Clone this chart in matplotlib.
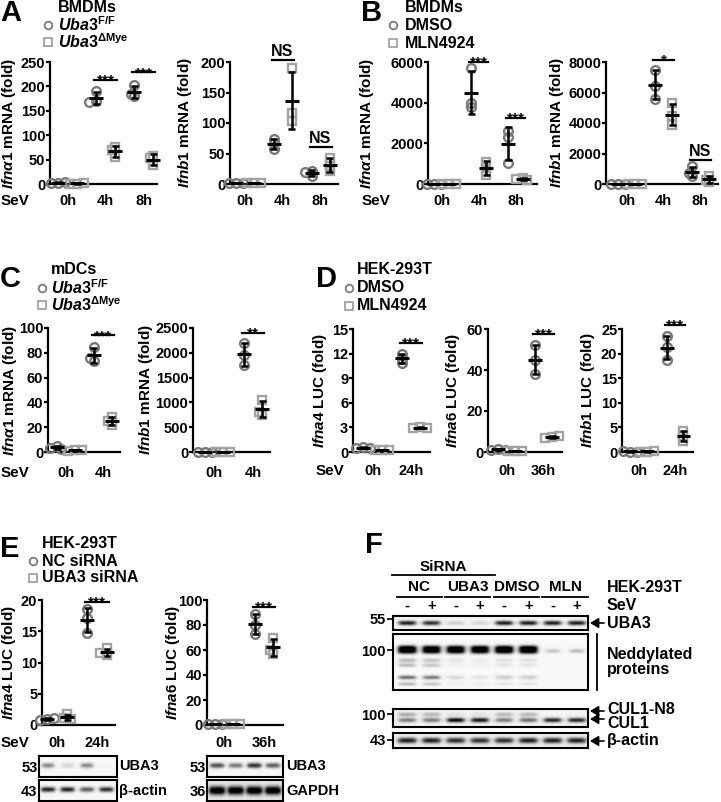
import numpy as np
import matplotlib
matplotlib.use("Agg")
import matplotlib.pyplot as plt
import matplotlib.patches
from matplotlib.transforms import Affine2D, blended_transform_factory
from matplotlib.lines import Line2D

W, H, DPI = 721, 802, 100
plt.rcParams.update({
    'font.family': ['Liberation Sans', 'DejaVu Sans'],
    'font.weight': 'bold',
    'mathtext.fontset': 'custom',
    'mathtext.rm': 'Liberation Sans:bold',
    'mathtext.bf': 'Liberation Sans:bold',
    'mathtext.it': 'Liberation Sans:bold:italic',
    'mathtext.sf': 'Liberation Sans:bold',
})

# ---------------- data ----------------
A_groups = ['0h', '4h', '8h']
a1_ff = [[3, 2, 4], [190, 170, 168], [203, 180, 185]]
a1_dm = [[1, 1, 2], [75, 55, 70], [58, 38, 54]]
a1_sig = [None, '***', '***']
a1_sig_y = [None, 213, 229]
a2_ff = [[1, 1, 1.5], [74, 57, 67], [22, 13, 20]]
a2_dm = [[1, 1, 1.5], [190, 117, 103], [43, 21, 29]]
a2_sig = [None, 'NS', 'NS']
a2_sig_y = [None, 203, 61]

B_groups = ['0h', '4h', '8h']
b1_dmso = [[15, 10, 12], [5700, 4000, 3800], [2600, 2300, 1050]]
b1_mln = [[10, 8, 12], [1100, 450, 800], [300, 250, 200]]
b1_sig = [None, '***', '***']
b1_sig_y = [None, 6000, 3250]
b2_dmso = [[10, 12, 8], [7500, 5600, 6400], [1150, 500, 750]]
b2_mln = [[10, 8, 9], [5300, 3900, 4450], [550, 100, 250]]
b2_sig = [None, '*', 'NS']
b2_sig_y = [None, 8130, 1570]

C_groups = ['0h', '4h']
c1_ff = [[5, 3.5, 2.5], [85, 73, 76]]
c1_dm = [[2, 1, 1.5], [28, 22, 25]]
c1_sig = [None, '***']
c1_sig_y = [None, 94]
c2_ff = [[8, 6, 10], [2200, 1950, 1750]]
c2_dm = [[5, 6, 4], [1050, 750, 800]]
c2_sig = [None, '**']
c2_sig_y = [None, 2400]

D1_groups = ['0h', '24h']
D2_groups = ['0h', '36h']
d1_dmso = [[0.55, 0.5, 0.45], [12.0, 11.4, 10.9]]
d1_mln = [[0.25, 0.2, 0.2], [3.05, 2.95, 2.9]]
d1_sig = [None, '***']
d1_sig_y = [None, 13.3]
d2_dmso = [[1.5, 1.0, 1.2], [52, 45, 38]]
d2_mln = [[0.3, 0.3, 0.35], [7.5, 7.0, 7.8]]
d2_sig = [None, '***']
d2_sig_y = [None, 57.6]
d3_dmso = [[0.1, 0.12, 0.1], [23.5, 21.3, 18.8]]
d3_mln = [[0.1, 0.1, 0.12], [4.3, 3.2, 2.3]]
d3_sig = [None, '***']
d3_sig_y = [None, 25.8]

E1_groups = ['0h', '24h']
E2_groups = ['0h', '36h']
e1_nc = [[1.0, 0.8, 1.2], [18.5, 17.2, 14.7]]
e1_si = [[1.7, 1.1, 0.9], [12.3, 11.2, 11.5]]
e1_sig = [None, '***']
e1_sig_y = [None, 19.7]
e2_nc = [[1.0, 1.2, 0.9], [89, 80, 73]]
e2_si = [[1.0, 0.9, 1.1], [70, 57, 60]]
e2_sig = [None, '***']
e2_sig_y = [None, 94.4]

# blot band intensities (per lane)
f_lanes_sev = ['-', '+', '-', '+', '-', '+', '-', '+']
f_groups = ['NC', 'UBA3', 'DMSO', 'MLN']
f_uba3 = [0.85, 0.8, 0.22, 0.18, 0.85, 0.85, 0.85, 0.85]
f_nedd_main = [0.95, 0.9, 0.9, 0.9, 0.95, 0.95, 0.0, 0.0]
f_nedd_faint = [0.0, 0.0, 0.0, 0.0, 0.0, 0.0, 0.3, 0.35]
f_nedd_mid = [0.35, 0.3, 0.15, 0.12, 0.18, 0.18, 0.0, 0.0]
f_nedd_low1 = [0.6, 0.55, 0.2, 0.15, 0.25, 0.25, 0.0, 0.0]
f_nedd_low2 = [0.35, 0.3, 0.1, 0.1, 0.15, 0.15, 0.0, 0.0]
f_cul1n8 = [0.35, 0.3, 0.1, 0.1, 0.3, 0.3, 0.0, 0.0]
f_cul1 = [0.5, 0.5, 0.9, 0.85, 0.5, 0.55, 0.8, 0.8]
f_actin = [0.8, 0.8, 0.75, 0.75, 0.75, 0.8, 0.8, 0.8]
e1_uba3 = [0.5, 0.2, 0.5, 0.05]
e1_actin = [0.85, 0.85, 0.65, 0.8]
e2_uba3 = [0.7, 0.55, 0.8, 0.65]
e2_gapdh = [1.0, 1.0, 1.0, 1.0]

# ---------------- labels ----------------
lab_a1 = r'$\mathit{Ifn\alpha 1}$ mRNA (fold)'
lab_b1 = r'$\mathit{Ifnb1}$ mRNA (fold)'
lab_a4 = r'$\mathit{Ifna4}$ LUC (fold)'
lab_a6 = r'$\mathit{Ifna6}$ LUC (fold)'
lab_b1l = r'$\mathit{Ifnb1}$ LUC (fold)'
uba3_ff = r'$\mathit{Uba3}^{\mathrm{F/F}}$'
uba3_dm = r'$\mathit{Uba3}^{\mathrm{\Delta Mye}}$'

fig = plt.figure(figsize=(W / DPI, H / DPI), dpi=DPI)
PX = Affine2D().scale(1.0 / W, -1.0 / H).translate(0, 1) + fig.transFigure

C1COL = '#7a7a7a'
C2COL = '#a3a3a3'
TICKFS = 10.5
LABFS = 11


def swarm(ypx, dmin=4.0, step=3.5):
    placed = []
    offs = []
    for y in ypx:
        cands = [0]
        for j in range(1, 6):
            cands += [-j * step, j * step]
        for c in cands:
            if all(np.hypot(c - ox, y - oy) >= dmin for ox, oy in placed):
                break
        placed.append((c, y))
        offs.append(c)
    return np.array(offs)


def chart(groups, s1, s2, ymax, ystep, ylabel, sig, sig_y, box, c1, gs, dodge,
          labx, xlab_y, sev_x=None):
    x0, y0, x1, y1 = box
    ax = fig.add_axes([x0 / W, 1 - y1 / H, (x1 - x0) / W, (y1 - y0) / H])
    ax.set_xlim((x0 - c1) / gs, (x1 - c1) / gs)
    ax.set_ylim(0, ymax)
    ypp = (y1 - y0) / ymax
    d = dodge / gs
    for g in range(len(groups)):
        for si, (ser, mk, col) in enumerate([(s1, 'o', C1COL), (s2, 's', C2COL)]):
            vals = np.array(ser[g], float)
            xc = g + (d if si else -d)
            offs = swarm(vals * ypp)
            ax.plot(xc + offs / gs, vals, ls='none', marker=mk, ms=6.3,
                    mfc='none', mec=col, mew=1.7, clip_on=False, zorder=3)
            m = vals.mean()
            sd = vals.std(ddof=1)
            kw = dict(color='k', lw=1.8, clip_on=False, zorder=4)
            ax.plot([xc, xc], [m - sd, m + sd], solid_capstyle='butt', **kw)
            for yy in (m - sd, m + sd):
                ax.plot([xc - 3.5 / gs, xc + 3.5 / gs], [yy, yy], solid_capstyle='butt', **kw)
            ax.plot([xc - 7 / gs, xc + 7 / gs], [m, m], solid_capstyle='butt',
                    color='k', lw=2.1, clip_on=False, zorder=4)
        if sig[g]:
            ax.plot([g - d - 2 / gs, g + d + 2 / gs], [sig_y[g], sig_y[g]], color='k',
                    lw=1.6, clip_on=False)
            star = '*' in sig[g]
            off = -3.5 if star else 3.0
            ax.annotate(sig[g], (g, sig_y[g]), xytext=(0, off), textcoords='offset points',
                        ha='center', va='baseline', fontsize=11 if star else 11.5,
                        fontweight='bold', annotation_clip=False)
    for sp in ('top', 'right'):
        ax.spines[sp].set_visible(False)
    for sp in ('left', 'bottom'):
        ax.spines[sp].set_linewidth(1.6)
    ax.set_yticks(np.arange(0, ymax + ystep / 2, ystep))
    ax.tick_params(axis='y', length=3.0, width=1.6, pad=0.4, labelsize=TICKFS)
    for t in ax.get_yticklabels():
        t.set_fontweight('bold')
    ax.set_xticks([])
    ax.set_ylabel(ylabel, fontsize=LABFS, fontweight='bold')
    ax.yaxis.set_label_coords((labx - x0) / (x1 - x0), 0.5)
    tr = blended_transform_factory(ax.transData, PX)
    for g, lab in enumerate(groups):
        ax.text(g, xlab_y, lab, transform=tr, ha='center', va='center', fontsize=TICKFS,
                fontweight='bold')
    if sev_x is not None:
        fig.text(sev_x, xlab_y, 'SeV', transform=PX, ha='left', va='center',
                 fontsize=TICKFS + 0.5, fontweight='bold')
    return ax


def header(letter, lx, ly, title, tx, ty, l1, l2, mx, my1, my2):
    fig.text(lx, ly, letter, transform=PX, fontsize=21, ha='left', va='center')
    fig.text(tx, ty, title, transform=PX, fontsize=11.5, ha='left', va='center')
    fig.text(tx, my1, l1, transform=PX, fontsize=11.5, ha='left', va='center')
    fig.text(tx, my2, l2, transform=PX, fontsize=11.5, ha='left', va='center')
    fig.add_artist(Line2D([mx], [my1], transform=PX, marker='o', ms=5.5, mfc='none',
                          mec=C1COL, mew=1.3))
    fig.add_artist(Line2D([mx], [my2], transform=PX, marker='s', ms=5.5, mfc='none',
                          mec=C2COL, mew=1.3))


# ---------------- A ----------------
header('A', 0, 13, 'BMDMs', 58, 8, uba3_ff, uba3_dm, 48, 25, 42)
chart(A_groups, a1_ff, a1_dm, 250, 50, lab_a1, a1_sig, a1_sig_y, (50, 62, 157, 184), 67.5, 38, 9.5, 18.5, 201, sev_x=1)
chart(A_groups, a2_ff, a2_dm, 200, 50, lab_b1, a2_sig, a2_sig_y, (230, 62, 338, 184), 244.5, 38, 9, 194, 201)
# ---------------- B ----------------
header('B', 361, 13, 'BMDMs', 405, 8, 'DMSO', 'MLN4924', 393, 25, 43)
chart(B_groups, b1_dmso, b1_mln, 6000, 2000, lab_a1, b1_sig, b1_sig_y, (428, 62, 537, 184), 442, 37, 7.5, 376, 201, sev_x=362)
chart(B_groups, b2_dmso, b2_mln, 8000, 2000, lab_b1, b2_sig, b2_sig_y, (606, 62, 718, 184), 626.5, 37, 8.5, 566, 201)
# ---------------- C ----------------
header('C', 0, 279, 'mDCs', 51, 269, uba3_ff, uba3_dm, 42, 288, 305)
chart(C_groups, c1_ff, c1_dm, 100, 20, lab_a1, c1_sig, c1_sig_y, (48, 328, 120, 452), 66, 37, 9, 18.5, 473, sev_x=1)
chart(C_groups, c2_ff, c2_dm, 2500, 500, lab_b1, c2_sig, c2_sig_y, (193, 328, 270, 452), 213.5, 39.5, 9, 155, 473)
# ---------------- D ----------------
header('D', 316, 279, 'HEK-293T', 357, 269, 'DMSO', 'MLN4924', 349, 288, 306)
chart(D1_groups, d1_dmso, d1_mln, 15, 3, lab_a4, d1_sig, d1_sig_y, (353, 329, 430, 452), 372.5, 38.5, 9.5, 329, 471, sev_x=316)
chart(D2_groups, d2_dmso, d2_mln, 60, 20, lab_a6, d2_sig, d2_sig_y, (488, 329, 562, 452), 506.5, 37, 8.5, 462, 471)
chart(D1_groups, d3_dmso, d3_mln, 25, 5, lab_b1l, d3_sig, d3_sig_y, (622, 329, 693, 452), 638.5, 36.5, 8.5, 597, 471)
# ---------------- E ----------------
header('E', 0, 549, 'HEK-293T', 42, 543, 'NC siRNA', 'UBA3 siRNA', 33, 561, 578)
chart(E1_groups, e1_nc, e1_si, 20, 5, lab_a4, e1_sig, e1_sig_y, (42, 600, 115, 725), 57, 40, 10, 18.5, 743, sev_x=1)
chart(E2_groups, e2_nc, e2_si, 100, 20, lab_a6, e2_sig, e2_sig_y, (207, 600, 283, 725), 224, 40, 9, 182, 743)


# ---------------- blots ----------------
def blot(box, first, sp, bands, bg=0.1, marker=None, mark_len=4, lw=1.5):
    x0, y0, x1, y1 = box
    ax = fig.add_axes([x0 / W, 1 - y1 / H, (x1 - x0) / W, (y1 - y0) / H])
    xl = ((x0 - first) / sp, (x1 - first) / sp)
    nx, ny = 300, 60
    xs = np.linspace(xl[0], xl[1], nx)
    ys = np.linspace(0, 1, ny)
    X, Y = np.meshgrid(xs, ys)
    img = np.full_like(X, bg)
    for (yc, sig, hw, ints) in bands:
        for i, v in enumerate(ints):
            hprof = 1.0 / (1.0 + np.exp((np.abs(X - i) - hw) / 0.06))
            vprof = np.exp(-0.5 * ((Y - yc) / sig) ** 2)
            img += v * hprof * vprof
    img = np.clip(img, 0, 1)
    ax.imshow(img, cmap='Greys', vmin=0, vmax=1, extent=(xl[0], xl[1], 1, 0),
              aspect='auto', interpolation='bilinear')
    ax.set_xlim(*xl)
    ax.set_ylim(1, 0)
    for s in ax.spines.values():
        s.set_linewidth(lw)
    ax.set_xticks([])
    if marker:
        ax.set_yticks([marker[1]])
        ax.set_yticklabels([marker[0]], fontweight='bold')
        ax.tick_params(axis='y', length=mark_len, width=1.2, pad=1, labelsize=10.5)
    else:
        ax.set_yticks([])
    return ax


# F
f_first, f_sp = 407, 24.3
fb1 = blot((393, 616, 588, 630), f_first, f_sp, [(0.5, 0.13, 0.36, f_uba3)], bg=0.08,
           marker=('55', 0.2))
fb2 = blot((393, 634, 588, 690), f_first, f_sp,
           [(0.24, 0.035, 0.38, f_nedd_main), (0.31, 0.035, 0.38, f_nedd_main),
            (0.30, 0.03, 0.3, f_nedd_faint), (0.47, 0.03, 0.36, f_nedd_mid),
            (0.56, 0.025, 0.36, f_nedd_low2), (0.78, 0.03, 0.36, f_nedd_low1),
            (0.9, 0.025, 0.36, f_nedd_low2)], bg=0.05, marker=('100', 0.29))
fb3 = blot((393, 709, 588, 727), f_first, f_sp,
           [(0.3, 0.09, 0.36, f_cul1n8), (0.62, 0.1, 0.36, f_cul1)], bg=0.1,
           marker=('100', 0.3))
fb4 = blot((393, 733, 588, 748), f_first, f_sp, [(0.5, 0.15, 0.38, f_actin)], bg=0.12,
           marker=('43', 0.45))

trF = blended_transform_factory(fb1.transData, PX)
fig.text(365, 545, 'F', transform=PX, fontsize=21, ha='left', va='center')
fb1.text(1.5, 567, 'SiRNA', transform=trF, ha='center', va='center', fontsize=11)
fb1.plot([0 - 0.62, 3 + 0.62], [575, 575], transform=trF, color='k', lw=1.3, clip_on=False)
for i, g in enumerate(f_groups):
    c = 2 * i + 0.5
    fb1.text(c, 587, g, transform=trF, ha='center', va='center', fontsize=11)
    fb1.plot([c - 0.93, c + 0.93], [597, 597], transform=trF, color='k', lw=1.3, clip_on=False)
for i, s in enumerate(f_lanes_sev):
    fb1.text(i, 606, s, transform=trF, ha='center', va='center', fontsize=10.5)
fig.text(607, 587, 'HEK-293T', transform=PX, ha='left', va='center', fontsize=11.5)
fig.text(607, 606, 'SeV', transform=PX, ha='left', va='center', fontsize=11.5)


def arrow(y, xt=604, xh=590):
    fig.add_artist(matplotlib.patches.FancyArrowPatch((xt, y), (xh, y), transform=PX,
                   arrowstyle='-|>,head_length=5,head_width=3', color='k', lw=1.2,
                   shrinkA=0, shrinkB=0, mutation_scale=1))


arrow(623)
fig.text(607, 623, 'UBA3', transform=PX, ha='left', va='center', fontsize=11.5)
fig.add_artist(Line2D([597, 597], [634, 690], transform=PX, color='k', lw=1.3))
fig.text(607, 662, 'Neddylated\nproteins', transform=PX, ha='left', va='center', fontsize=11.5,
         linespacing=0.95)
arrow(711)
arrow(719)
fig.text(607, 709, 'CUL1-N8', transform=PX, ha='left', va='center', fontsize=11.5)
fig.text(607, 724, 'CUL1', transform=PX, ha='left', va='center', fontsize=11.5)
arrow(741)
fig.text(607, 741, 'β-actin', transform=PX, ha='left', va='center', fontsize=11.5)

# E blots
eb1 = blot((39, 756, 117, 777), 48, 19.5, [(0.45, 0.1, 0.33, e1_uba3)], bg=0.06,
           marker=('53', 0.5), mark_len=0)
eb2 = blot((39, 780, 117, 801), 48, 19.5, [(0.45, 0.1, 0.36, e1_actin)], bg=0.06,
           marker=('43', 0.5), mark_len=0)
eb3 = blot((207, 756, 283, 777), 217, 18.7, [(0.45, 0.1, 0.38, e2_uba3)], bg=0.06,
           marker=('53', 0.5), mark_len=0)
eb4 = blot((207, 780, 283, 801), 217, 18.7, [(0.5, 0.16, 0.42, e2_gapdh)], bg=0.15,
           marker=('36', 0.5), mark_len=0)
fig.text(119, 766, 'UBA3', transform=PX, ha='left', va='center', fontsize=10.5)
fig.text(119, 791, 'β-actin', transform=PX, ha='left', va='center', fontsize=10.5)
fig.text(286, 766, 'UBA3', transform=PX, ha='left', va='center', fontsize=10.5)
fig.text(286, 791, 'GAPDH', transform=PX, ha='left', va='center', fontsize=10.5)

fig.savefig('out.png', dpi=DPI)
